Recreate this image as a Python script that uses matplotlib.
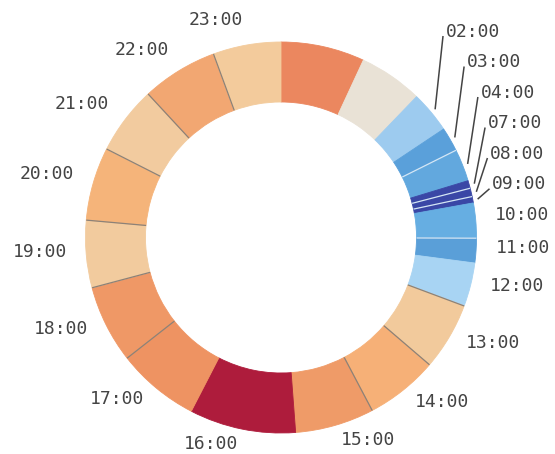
import numpy as np
import matplotlib
matplotlib.use("Agg")
import matplotlib.pyplot as plt

# data
hours = ["00:00", "01:00", "02:00", "03:00", "04:00", "07:00", "08:00", "09:00",
         "10:00", "11:00", "12:00", "13:00", "14:00", "15:00", "16:00", "17:00",
         "18:00", "19:00", "20:00", "21:00", "22:00", "23:00"]
values = [24.9, 19.0, 12.4, 7.2, 9.6, 2.3, 2.5, 1.9, 10.4, 7.3, 13.0, 20.1,
          21.6, 23.5, 31.6, 24.6, 23.2, 20.0, 21.8, 20.3, 22.6, 20.2]
unlabeled = ["00:00", "01:00"]

# styles
colors = ["#EB875F", "#E9E2D6", "#9DCBEF", "#5AA0DA", "#62A8DE", "#3A47A6",
          "#3A47A6", "#3A47A6", "#66AEE2", "#5A9FD8", "#A8D4F3", "#F2CA9C",
          "#F6B077", "#EF9B68", "#AE1C3C", "#EE9362", "#EF9866", "#F2CB9E",
          "#F5B47A", "#F2CB9F", "#F2A772", "#F3CB9C"]
dark_dividers = ["13:00", "14:00", "15:00", "18:00", "19:00", "20:00",
                 "21:00", "22:00", "23:00"]
light_dividers = ["04:00", "08:00", "09:00", "11:00"]

W, H = 555, 454
CX, CY = 281, H - 237.5
R_OUT, R_IN = 195.5, 135.5
R_LABEL = 215
GAP = 30.5

fig = plt.figure(figsize=(W / 100, H / 100), dpi=100)
ax = fig.add_axes([0, 0, 1, 1])

wedges, _ = ax.pie(values, colors=colors, startangle=90, counterclock=False,
                   radius=R_OUT, center=(CX, CY),
                   wedgeprops=dict(width=R_OUT - R_IN, linewidth=0.6))
for w in wedges:
    w.set_edgecolor(w.get_facecolor())

vals = np.array(values)
start = np.concatenate([[0], np.cumsum(vals)[:-1]]) / vals.sum() * 360
mid = start + vals / vals.sum() * 180

# dividers between slices
for i, h in enumerate(hours):
    if h in dark_dividers or h in light_dividers:
        a = np.radians(start[i])
        c = "#8c8278" if h in dark_dividers else "#d4e6f5"
        ax.plot([CX + R_IN * np.sin(a), CX + R_OUT * np.sin(a)],
                [CY + R_IN * np.cos(a), CY + R_OUT * np.cos(a)],
                color=c, lw=0.9, solid_capstyle="butt")

# label positions (screen y, downward) with simple collision push-up
labels = []
for i, h in enumerate(hours):
    if h in unlabeled:
        continue
    a = np.radians(mid[i])
    x = CX + R_LABEL * np.sin(a)
    ys = (H - CY) - R_LABEL * np.cos(a) - 4
    labels.append(dict(h=h, a=a, x=x, ys=ys, ys0=ys, right=np.sin(a) > 0))

for side in (True, False):
    grp = sorted([l for l in labels if l["right"] == side], key=lambda l: l["ys"])
    for j in range(len(grp) - 2, -1, -1):
        grp[j]["ys"] = min(grp[j]["ys"], grp[j + 1]["ys"] - GAP)

for l in labels:
    ha = "left" if l["right"] else "right"
    ax.text(l["x"], H - l["ys"], l["h"], ha=ha, va="center",
            fontsize=13, color="#444444", family="DejaVu Sans Mono")
    if l["ys0"] - l["ys"] > 3:
        a = l["a"]
        ax.plot([CX + 201 * np.sin(a), l["x"] - 3],
                [CY + 201 * np.cos(a), H - (l["ys"] + 5)],
                color="#444444", lw=1.1)

ax.set_xlim(0, W)
ax.set_ylim(0, H)
ax.set_aspect("equal")
ax.axis("off")
fig.savefig("out.png", dpi=100)
